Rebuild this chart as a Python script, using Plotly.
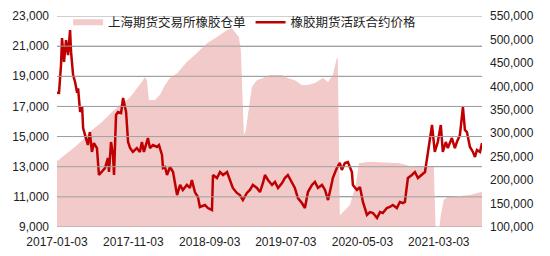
import plotly.graph_objects as go

# ---- data ----
receipt_dates = [
    "2017-01-03", "2017-02-04", "2017-03-16", "2017-04-24", "2017-05-22", "2017-07-01",
    "2017-08-10", "2017-09-19", "2017-10-09", "2017-10-29", "2017-11-17", "2017-12-07",
    "2017-12-19", "2017-12-27", "2018-01-04", "2018-01-28", "2018-02-17", "2018-03-09",
    "2018-03-29", "2018-04-26", "2018-06-04", "2018-07-14", "2018-08-23", "2018-10-02",
    "2018-11-11", "2018-12-01", "2018-12-12", "2018-12-28", "2019-01-05", "2019-01-17",
    "2019-01-25", "2019-02-02", "2019-02-18", "2019-03-10", "2019-04-03", "2019-05-01",
    "2019-06-18", "2019-07-11", "2019-08-08", "2019-09-05", "2019-09-29", "2019-10-27",
    "2019-11-28", "2019-12-18", "2020-01-06", "2020-01-22", "2020-01-26", "2020-02-03",
    "2020-03-14", "2020-04-07", "2020-04-19", "2020-06-02", "2020-09-29", "2020-11-08",
    "2021-02-11", "2021-02-19", "2021-03-03", "2021-03-11", "2021-03-23", "2021-04-08",
    "2021-05-26", "2021-07-05", "2021-08-22",
]
receipt_values = [
    240000, 254000, 271000, 290000, 307000, 324000,
    345000, 364000, 371000, 382000, 396000, 409000,
    420000, 413000, 371000, 371000, 382000, 403000,
    418000, 428000, 452000, 471000, 492000, 505000,
    520000, 524000, 516000, 505000, 477000, 296000,
    307000, 339000, 399000, 413000, 418000, 424000,
    424000, 418000, 413000, 403000, 403000, 407000,
    418000, 409000, 424000, 460000, 460000, 125000,
    147000, 190000, 236000, 239000, 236000, 230000,
    228000, 90000, 90000, 125000, 158000, 164000,
    166000, 168000, 175000,
]

price_dates = [
    "2017-01-03", "2017-01-11", "2017-01-19", "2017-01-23", "2017-01-31", "2017-02-08",
    "2017-02-16", "2017-02-24", "2017-02-28", "2017-03-08", "2017-03-16", "2017-03-24",
    "2017-03-28", "2017-04-05", "2017-04-13", "2017-04-17", "2017-04-28", "2017-05-06",
    "2017-05-14", "2017-05-22", "2017-05-30", "2017-06-11", "2017-06-19", "2017-07-01",
    "2017-07-13", "2017-07-25", "2017-07-29", "2017-08-06", "2017-08-14", "2017-08-18",
    "2017-08-26", "2017-09-03", "2017-09-15", "2017-09-23", "2017-10-05", "2017-10-13",
    "2017-10-21", "2017-11-01", "2017-11-17", "2017-11-29", "2017-12-07", "2017-12-15",
    "2017-12-31", "2018-01-08", "2018-01-20", "2018-02-05", "2018-02-13", "2018-02-25",
    "2018-03-01", "2018-03-09", "2018-03-17", "2018-03-29", "2018-04-10", "2018-04-26",
    "2018-05-08", "2018-05-19", "2018-06-04", "2018-06-16", "2018-06-24", "2018-07-06",
    "2018-07-18", "2018-07-26", "2018-08-15", "2018-08-27", "2018-09-12", "2018-09-16",
    "2018-10-02", "2018-10-14", "2018-10-26", "2018-11-11", "2018-11-23", "2018-12-04",
    "2018-12-20", "2019-01-01", "2019-01-13", "2019-01-29", "2019-02-10", "2019-02-22",
    "2019-03-10", "2019-03-22", "2019-04-03", "2019-04-11", "2019-04-23", "2019-05-09",
    "2019-05-21", "2019-06-02", "2019-06-18", "2019-06-29", "2019-07-11", "2019-07-27",
    "2019-08-08", "2019-08-20", "2019-09-05", "2019-09-17", "2019-09-29", "2019-10-15",
    "2019-10-27", "2019-11-08", "2019-11-24", "2019-12-06", "2019-12-18", "2020-01-03",
    "2020-01-06", "2020-01-22", "2020-02-03", "2020-02-11", "2020-02-23", "2020-03-06",
    "2020-03-22", "2020-03-26", "2020-04-11", "2020-04-23", "2020-05-05", "2020-05-21",
    "2020-06-02", "2020-06-14", "2020-06-30", "2020-07-12", "2020-07-23", "2020-08-08",
    "2020-08-20", "2020-09-01", "2020-09-17", "2020-09-29", "2020-10-11", "2020-10-19",
    "2020-10-31", "2020-11-16", "2020-11-28", "2020-12-10", "2020-12-26", "2021-01-07",
    "2021-01-19", "2021-02-04", "2021-02-15", "2021-02-27", "2021-03-11", "2021-03-19",
    "2021-03-31", "2021-04-08", "2021-04-24", "2021-05-06", "2021-05-14", "2021-05-26",
    "2021-06-07", "2021-06-15", "2021-06-23", "2021-07-05", "2021-07-17", "2021-07-25",
    "2021-08-02", "2021-08-14", "2021-08-22",
]
price_values = [
    17900, 17890, 19750, 21540, 19950, 21400,
    20400, 22070, 20600, 19100, 18620, 17900,
    18200, 16630, 16960, 15570, 14900, 14440,
    15300, 13980, 14570, 14240, 12450, 12650,
    12910, 13580, 12650, 14640, 13780, 12450,
    16430, 16630, 16560, 17560, 16630, 14640,
    14240, 13980, 14240, 13980, 14640, 13980,
    14900, 14240, 14440, 14310, 14440, 13780,
    12910, 12980, 12450, 12980, 12650, 11120,
    11790, 11460, 11790, 11590, 12120, 11320,
    10990, 10330, 10460, 10260, 10130, 12450,
    12250, 12650, 12450, 12650, 12120, 11590,
    11260, 11120, 10790, 11260, 11460, 11790,
    11590, 11320, 11920, 12450, 12120, 11790,
    11990, 11590, 11920, 12250, 12450, 11990,
    11590, 10920, 10590, 10260, 11320, 11790,
    11990, 11590, 11790, 11460, 10790, 11990,
    12250, 12910, 13250, 12780, 13250, 13310,
    12650, 11790, 11460, 11650, 10660, 9800,
    9990, 9930, 9600, 9990, 9930, 10260,
    10330, 10460, 10260, 10660, 10590, 10660,
    12250, 12450, 12650, 12250, 12450, 12650,
    13980, 15770, 13980, 14640, 15770, 13980,
    14640, 14240, 14900, 14240, 14640, 15100,
    16960, 15440, 15300, 14310, 13980, 13650,
    14110, 13980, 14570, 13780,
]
price_values = price_values[:len(price_dates)]

left_ticks = [9000, 11000, 13000, 15000, 17000, 19000, 21000, 23000]
right_ticks = [100000, 150000, 200000, 250000, 300000, 350000, 400000, 450000, 500000, 550000]
x_ticks = ["2017-01-03", "2017-11-03", "2018-09-03", "2019-07-03", "2020-05-03", "2021-03-03"]
x_range = ["2017-01-03", "2021-08-22"]
left_range = [9000, 23000]

name_receipt = "上海期货交易所橡胶仓单"
name_price = "橡胶期货活跃合约价格"

GRID = "#A0A0A0"

fig = go.Figure()
# pink warehouse-receipt area (base axis, right side), plain fill
fig.add_trace(go.Scatter(
    x=receipt_dates, y=receipt_values, name=name_receipt,
    mode="none", fill="tozeroy",
    fillcolor="#F3CACA",
    yaxis="y",
))

# red price line
fig.add_trace(go.Scatter(
    x=price_dates, y=price_values, name=name_price,
    mode="lines", line=dict(color="#C00000", width=2.5),
    yaxis="y2",
))

# grid lines at the left-axis ticks, above the pink area
for t in left_ticks:
    fig.add_shape(
        type="line", xref="paper", yref="y2", x0=0, x1=1, y0=t, y1=t,
        line=dict(color=GRID, width=1), layer="above",
    )

tick_font = dict(family="Liberation Sans, Arial, sans-serif", size=12, color="#222222")

fig.update_layout(
    width=550, height=256,
    margin=dict(l=57, r=68, t=16, b=29, autoexpand=False),
    paper_bgcolor="white", plot_bgcolor="white",
    showlegend=True,
    legend=dict(
        orientation="h", x=0.026, y=1.04, xanchor="left", yanchor="top",
        bgcolor="rgba(0,0,0,0)",
        font=dict(family="Noto Sans CJK SC", size=12.5, color="#222222"),
        itemwidth=30, tracegroupgap=0,
    ),
    xaxis=dict(
        type="date",
        range=x_range,
        tickvals=x_ticks, tickformat="%Y-%m-%d",
        showgrid=False, showline=False, zeroline=False,
        ticks="", tickfont=tick_font, ticklabelstandoff=6,
        automargin=False,
    ),
    yaxis=dict(
        side="right", range=[100000, 550000],
        tickvals=right_ticks, tickformat=",d",
        showgrid=False, zeroline=False, showline=False,
        ticks="", tickfont=tick_font, ticklabelstandoff=7,
        automargin=False,
    ),
    yaxis2=dict(
        overlaying="y", side="left", range=left_range,
        tickvals=left_ticks, tickformat=",d",
        showgrid=True, gridcolor=GRID, gridwidth=1,
        zeroline=False, showline=False,
        ticks="", tickfont=tick_font, ticklabelstandoff=7,
        automargin=False,
    ),
)

fig.write_html("out.html")
